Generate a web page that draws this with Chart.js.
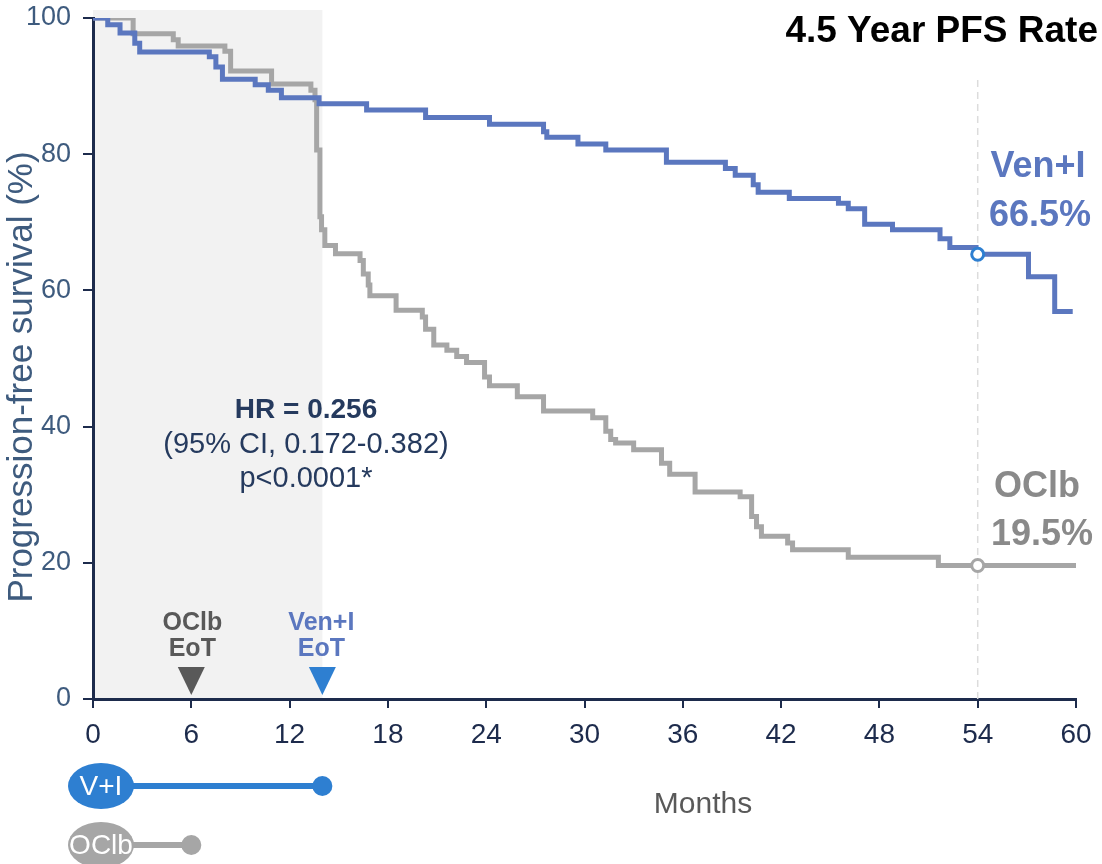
<!DOCTYPE html>
<html><head><meta charset="utf-8">
<script src="https://cdn.jsdelivr.net/npm/chart.js@4"></script>
<style>html,body{margin:0;padding:0;background:#fff;} canvas{display:block;}</style>
</head><body>
<canvas id="c" width="1102" height="864"></canvas>
<script>
// ---- Data ----
const venTime = [0, 0.9, 1.65, 2.55, 2.85, 7.1, 7.5, 7.9, 9.9, 10.7, 11.5, 13.8, 16.7, 20.3, 24.2, 27.5, 27.7, 29.6, 31.3, 35.0, 38.6, 39.2, 40.3, 40.6, 42.5, 45.5, 46.1, 47.1, 48.8, 51.7, 52.3, 53.9, 57.1, 58.7, 59.8];
const venSurv = [100, 99.0, 97.8, 96.3, 95.0, 94.3, 92.8, 91.0, 90.2, 89.4, 88.3, 87.4, 86.5, 85.4, 84.4, 83.3, 82.5, 81.5, 80.6, 78.8, 77.9, 76.9, 75.5, 74.4, 73.5, 72.8, 72.0, 69.7, 68.9, 67.6, 66.3, 65.3, 62.0, 56.9, 56.9];
const oclbTime = [0, 2.45, 4.9, 5.2, 8.05, 8.4, 10.9, 13.3, 13.55, 13.65, 13.85, 13.95, 14.15, 14.8, 16.3, 16.5, 16.8, 16.9, 18.5, 20.1, 20.3, 20.8, 21.6, 22.2, 22.8, 23.9, 24.2, 25.9, 27.5, 30.5, 31.3, 31.6, 31.9, 33.0, 34.7, 35.2, 36.75, 39.5, 40.2, 40.5, 40.8, 42.4, 42.7, 46.1, 51.6, 60];
const oclbSurv = [100, 97.7, 96.8, 95.9, 95.1, 92.2, 90.3, 89.4, 88.0, 80.6, 70.8, 68.9, 66.6, 65.4, 64.4, 62.4, 60.8, 59.2, 57.1, 56.1, 54.3, 52.0, 51.2, 50.3, 49.4, 47.3, 46.0, 44.4, 42.3, 41.3, 39.3, 38.1, 37.6, 36.6, 34.6, 33.0, 30.4, 29.7, 26.8, 25.3, 23.9, 22.9, 21.9, 20.8, 19.6, 19.6];
const landmarkMonth = [54];
const venLandmark = [65.3];
const oclbLandmark = [19.6];
const venLabel = ["Ven+I", "66.5%"];
const oclbLabel = ["OClb", "19.5%"];
const xTickValues = [0, 6, 12, 18, 24, 30, 36, 42, 48, 54, 60];
const yTickValues = [0, 20, 40, 60, 80, 100];
const treatmentEnd = { oclb: 6, ven: 14 };
const hrLines = ["HR = 0.256", "(95% CI, 0.172-0.382)", "p<0.0001*"];

const BLUE = '#5b77bf', BRIGHT = '#2e7fd1', GRAY = '#a6a6a6', NAVY = '#1d2b4c', SLATE = '#3e5b7e';
const FONT = '"Liberation Sans", Arial, sans-serif';

const overlay = {
  id: 'overlay',
  beforeDraw(chart) {
    const ctx = chart.ctx, xs = chart.scales.x, ca = chart.chartArea;
    ctx.save();
    ctx.fillStyle = '#f2f2f2';
    const x0 = xs.getPixelForValue(0), x1 = xs.getPixelForValue(treatmentEnd.ven);
    ctx.fillRect(x0, ca.top - 8, x1 - x0, ca.bottom - ca.top + 8);
    ctx.restore();
  },
  beforeDatasetsDraw(chart) {
    const ctx = chart.ctx, xs = chart.scales.x, ca = chart.chartArea;
    const x = xs.getPixelForValue(landmarkMonth[0]);
    ctx.save();
    ctx.strokeStyle = '#dcdcdc'; ctx.lineWidth = 1.5; ctx.setLineDash([7, 5]);
    ctx.beginPath(); ctx.moveTo(x, 80); ctx.lineTo(x, ca.bottom); ctx.stroke();
    ctx.restore();
  },
  afterDraw(chart) {
    const ctx = chart.ctx, xs = chart.scales.x, ca = chart.chartArea;
    ctx.save();
    // Title
    ctx.fillStyle = '#000'; ctx.font = 'bold 37px ' + FONT; ctx.textAlign = 'right'; ctx.textBaseline = 'alphabetic';
    ctx.fillText('4.5 Year PFS Rate', 1098, 42);
    // Landmark labels
    ctx.textAlign = 'center'; ctx.font = 'bold 36px ' + FONT;
    ctx.fillStyle = BLUE;
    ctx.fillText(venLabel[0], 1038, 177);
    ctx.fillText(venLabel[1], 1040, 226);
    ctx.fillStyle = '#8a8a8a';
    ctx.fillText(oclbLabel[0], 1037, 497);
    ctx.fillText(oclbLabel[1], 1042, 545);
    // HR text
    ctx.fillStyle = '#253a5e';
    ctx.font = 'bold 28px ' + FONT; ctx.fillText(hrLines[0], 306, 418);
    ctx.font = '29px ' + FONT; ctx.fillText(hrLines[1], 306, 453);
    ctx.fillText(hrLines[2], 306, 487);
    // EoT labels & triangles
    const xo = xs.getPixelForValue(treatmentEnd.oclb), xv = xs.getPixelForValue(treatmentEnd.ven);
    ctx.font = 'bold 25px ' + FONT;
    ctx.fillStyle = '#595959';
    ctx.fillText('OClb', xo + 1, 630); ctx.fillText('EoT', xo + 1, 656);
    ctx.fillStyle = BLUE;
    ctx.fillText('Ven+I', xv - 1, 630); ctx.fillText('EoT', xv - 1, 656);
    const tri = (cx, col) => { ctx.fillStyle = col; ctx.beginPath(); ctx.moveTo(cx - 13.5, 667); ctx.lineTo(cx + 13.5, 667); ctx.lineTo(cx, 695); ctx.closePath(); ctx.fill(); };
    tri(xo, '#595959'); tri(xv, BRIGHT);
    // Axis titles
    ctx.fillStyle = '#595959'; ctx.font = '30px ' + FONT;
    ctx.fillText('Months', 703, 813);
    ctx.save();
    ctx.translate(32, 377); ctx.rotate(-Math.PI / 2);
    ctx.fillStyle = SLATE; ctx.font = '35px ' + FONT; ctx.textAlign = 'center'; ctx.textBaseline = 'alphabetic';
    ctx.fillText('Progression-free survival (%)', 0, 0);
    ctx.restore();
    // Treatment duration pills
    const pill = (cy, xEnd, col, label) => {
      ctx.strokeStyle = col; ctx.lineWidth = 6;
      ctx.beginPath(); ctx.moveTo(120, cy); ctx.lineTo(xEnd, cy); ctx.stroke();
      ctx.fillStyle = col;
      ctx.beginPath(); ctx.arc(xEnd, cy, 10, 0, Math.PI * 2); ctx.fill();
      ctx.beginPath(); ctx.ellipse(101, cy, 33, 23, 0, 0, Math.PI * 2); ctx.fill();
      ctx.fillStyle = '#fff'; ctx.font = '28px ' + FONT; ctx.textAlign = 'center'; ctx.textBaseline = 'middle';
      ctx.fillText(label, 101, cy + 1);
    };
    pill(786, xv, BRIGHT, 'V+I');
    pill(845, xo, GRAY, 'OClb');
    ctx.restore();
  }
};

new Chart(document.getElementById('c'), {
  type: 'line',
  data: {
    datasets: [
      { label: 'Ven+I', data: venTime.map((t, i) => ({ x: t, y: venSurv[i] })), borderColor: BLUE, borderWidth: 5, stepped: 'before', pointRadius: 0, fill: false, order: 2 },
      { label: 'OClb', data: oclbTime.map((t, i) => ({ x: t, y: oclbSurv[i] })), borderColor: GRAY, borderWidth: 5, stepped: 'before', pointRadius: 0, fill: false, order: 3 },
      { label: 'Ven+I 4.5y', data: landmarkMonth.map((t, i) => ({ x: t, y: venLandmark[i] })), showLine: false, pointRadius: 6, pointBorderWidth: 3, pointBorderColor: BRIGHT, pointBackgroundColor: '#fff', order: 0 },
      { label: 'OClb 4.5y', data: landmarkMonth.map((t, i) => ({ x: t, y: oclbLandmark[i] })), showLine: false, pointRadius: 6, pointBorderWidth: 3, pointBorderColor: GRAY, pointBackgroundColor: '#fff', order: 1 }
    ]
  },
  options: {
    responsive: false, animation: false,
    layout: { padding: { top: 18, right: 26, left: 0, bottom: 0 } },
    plugins: { legend: { display: false }, tooltip: { enabled: false } },
    scales: {
      x: {
        type: 'linear', min: 0, max: 60,
        afterFit: s => { s.height = 165; s.paddingLeft = 0; s.paddingRight = 0; },
        afterBuildTicks: s => { s.ticks = xTickValues.map(v => ({ value: v })); },
        ticks: { color: NAVY, font: { family: FONT, size: 28 }, padding: 10, maxRotation: 0 },
        grid: { display: true, drawOnChartArea: false, drawTicks: true, tickLength: 9, color: NAVY, lineWidth: 2 },
        border: { display: true, color: NAVY, width: 3 }
      },
      y: {
        min: 0, max: 100,
        afterFit: s => { s.width = 93; s.paddingTop = 0; s.paddingBottom = 0; },
        afterBuildTicks: s => { s.ticks = yTickValues.map(v => ({ value: v })); },
        ticks: { color: SLATE, font: { family: FONT, size: 27 }, padding: 12 },
        grid: { display: true, drawOnChartArea: false, drawTicks: true, tickLength: 10, color: NAVY, lineWidth: 2 },
        border: { display: true, color: NAVY, width: 3 }
      }
    }
  },
  plugins: [overlay]
});
</script>
</body></html>
